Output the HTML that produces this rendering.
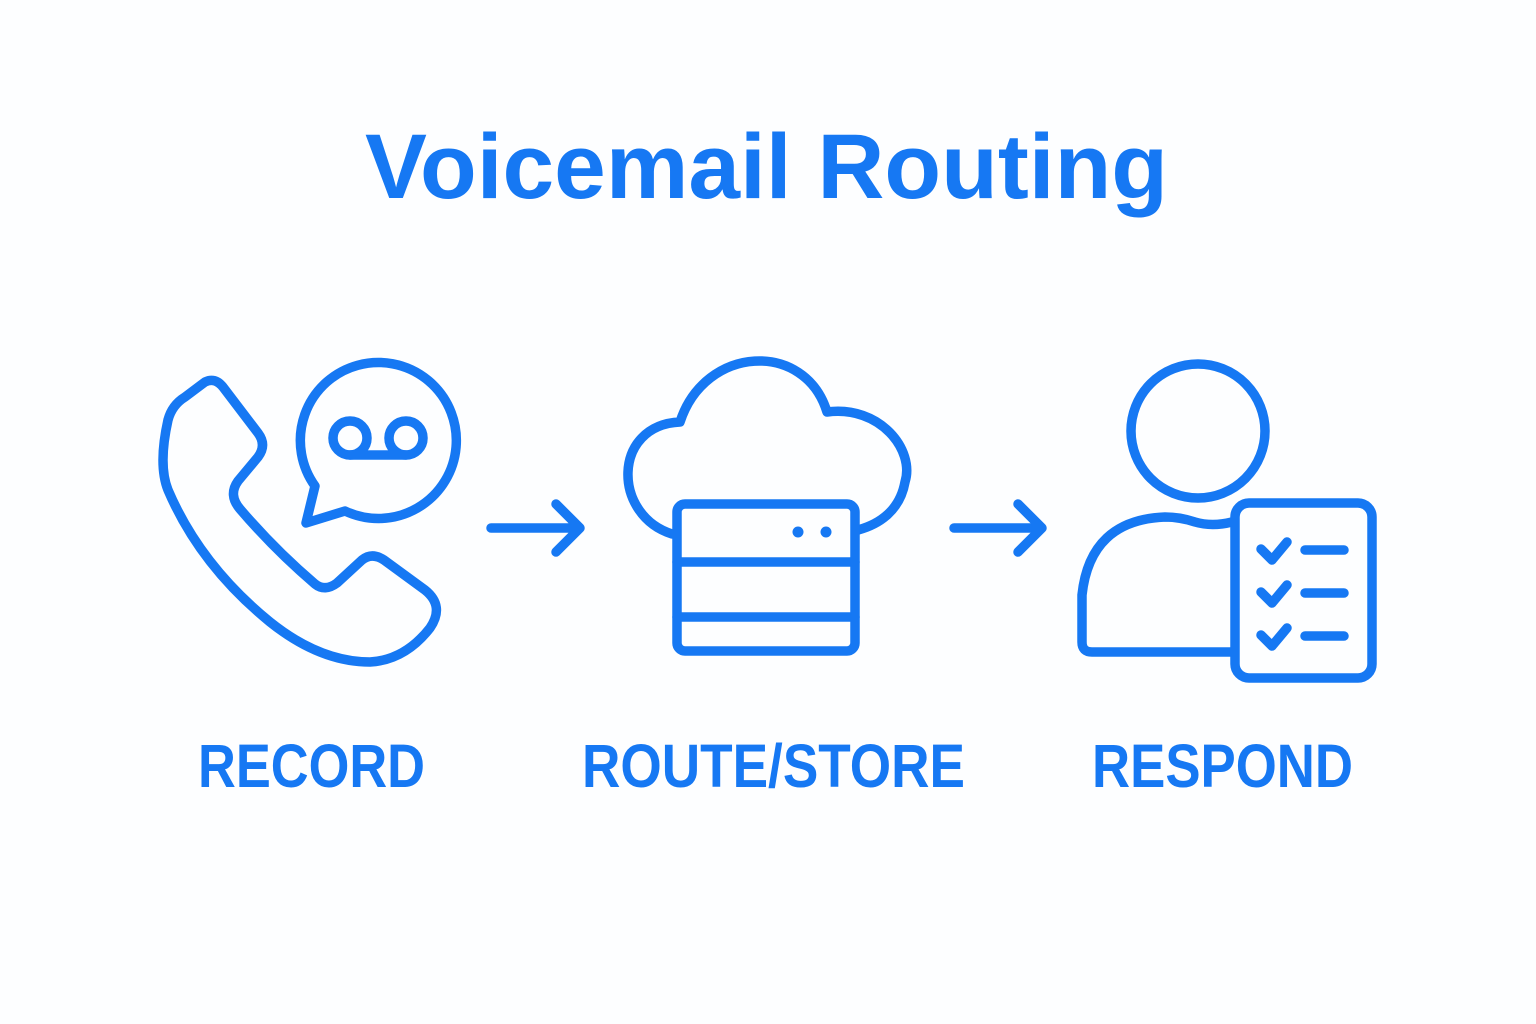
<!DOCTYPE html>
<html><head><meta charset="utf-8"><style>
html,body{margin:0;padding:0;background:#fdfeff;}
svg{display:block;}
</style></head><body>
<svg width="1536" height="1024" viewBox="0 0 1536 1024" xmlns="http://www.w3.org/2000/svg">
<rect width="1536" height="1024" fill="#fdfeff"/>
<g font-family="'Liberation Sans', sans-serif" font-weight="bold" fill="#1678f3">
<text x="365" y="198" font-size="92" textLength="803" lengthAdjust="spacingAndGlyphs">Voicemail Routing</text>
<text x="198" y="787" font-size="61" textLength="227" lengthAdjust="spacingAndGlyphs">RECORD</text>
<text x="582" y="787" font-size="61" textLength="383" lengthAdjust="spacingAndGlyphs">ROUTE/STORE</text>
<text x="1092" y="787" font-size="61" textLength="261" lengthAdjust="spacingAndGlyphs">RESPOND</text>
</g>
<g fill="none" stroke="#1678f3" stroke-width="9.5" stroke-linecap="round" stroke-linejoin="round">
<!-- phone -->
<path d="M205,382 Q215,377 223,387 L258,433 Q267,445 258,457 L238,481 Q228,495 240,509 Q275,550 315,584 Q325,592 337,583 L362,560 Q372,552 384,560 L425,590 Q445,606 430,628 Q405,660 370,662 Q320,662 270,622 Q200,565 168,490 Q158,465 168,420 Q172,405 185,397 Z"/>
<path d="M315,486 A78,78 0 1 1 345,511 L306,523 Z"/>
<circle cx="350" cy="438" r="17"/>
<circle cx="406" cy="438" r="17"/>
<line x1="350" y1="455" x2="406" y2="455"/>
<!-- arrows -->
<path d="M491,528 L579,528 M556,504 L580,528 L556,552"/>
<path d="M954,528 L1042,528 M1018,504 L1042,528 L1018,552"/>
<!-- cloud -->
<path d="M672,534 C612,515 612,425 680,422 C705,345 805,340 827,412 C880,405 915,450 905,482 C900,510 880,524 858,530"/>
<rect x="677" y="504" width="178" height="147" rx="8"/>
<line x1="677" y1="562" x2="855" y2="562"/>
<line x1="677" y1="617" x2="855" y2="617"/>
<!-- person -->
<circle cx="1198" cy="431" r="67"/>
<path d="M1232,652 L1092,652 Q1082,652 1082,642 L1082,595 Q1090,520 1165,517 Q1180,517 1195,522 Q1212,527 1232,522"/>
<rect x="1235" y="503" width="137" height="175" rx="14"/>
<path d="M1261,549 L1272,560 L1287,542"/>
<path d="M1261,592 L1272,603 L1287,585"/>
<path d="M1261,635 L1272,646 L1287,628"/>
<path d="M1305,550 L1344,550 M1305,593 L1344,593 M1305,636 L1344,636"/>
</g>
<g fill="#1678f3">
<circle cx="798" cy="532" r="5.5"/>
<circle cx="826" cy="532" r="5.5"/>
</g>
</svg>
</body></html>
